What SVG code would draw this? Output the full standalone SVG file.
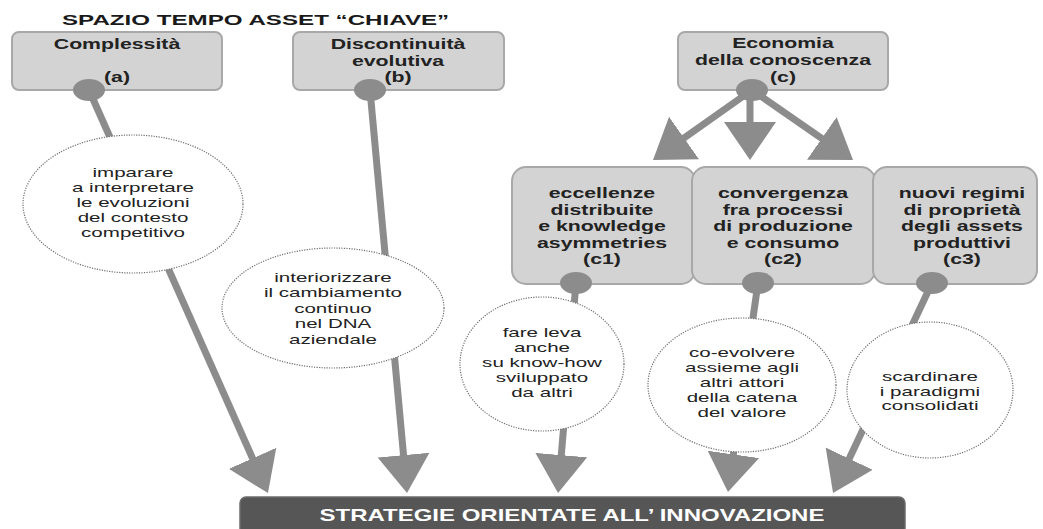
<svg xmlns="http://www.w3.org/2000/svg" width="1043" height="529" viewBox="0 0 1043 529">
  <style>
    .box{fill:#d3d3d3;stroke:#a8a8a8;stroke-width:2}
    .dot{fill:#8c8c8c}
    .bubble{fill:#fff;stroke:#6e6e6e;stroke-width:1.2;stroke-dasharray:1.2 1.3}
    .conn{stroke:#8c8c8c;stroke-width:7;fill:none;marker-end:url(#head)}
    .title{font-family:"Liberation Sans",Arial,sans-serif;font-weight:bold;font-size:15px;fill:#1a1a1a}
    .bt{font-family:"Liberation Sans",Arial,sans-serif;font-weight:bold;font-size:14px;fill:#222;text-anchor:middle}
    .ct{font-family:"Liberation Sans",Arial,sans-serif;font-size:13px;fill:#222;text-anchor:middle}
    .bar-t{font-family:"Liberation Sans",Arial,sans-serif;font-weight:bold;font-size:16px;fill:#fff;text-anchor:middle}
  </style>
  <defs>
    <marker id="head" markerUnits="userSpaceOnUse" markerWidth="40" markerHeight="54" viewBox="0 -27 40 54" refX="28" refY="0" orient="auto">
      <path d="M0,-26 L38,0 L0,26 Z" fill="#8c8c8c"/>
    </marker>
  </defs>

  <!-- heading -->
  <g id="heading" transform="translate(62,0) scale(1.61,1)">
    <text class="title" x="0" y="25">SPAZIO TEMPO ASSET “CHIAVE”</text>
  </g>

  <!-- connectors -->
  <g id="connectors">
    <line class="conn" x1="89" y1="90" x2="263.9" y2="483.9"/>
    <line class="conn" x1="370" y1="90" x2="406.1" y2="483"/>
    <line class="conn" x1="752" y1="90" x2="661.2" y2="154.2"/>
    <line class="conn" x1="750" y1="90" x2="750" y2="150"/>
    <line class="conn" x1="752" y1="90" x2="844.8" y2="154.3"/>
    <line class="conn" x1="576" y1="283" x2="558.9" y2="483"/>
    <line class="conn" x1="758" y1="283" x2="729.4" y2="482.1"/>
    <line class="conn" x1="932" y1="283" x2="837.3" y2="484"/>
  </g>

  <!-- top row -->
  <g id="node-a">
    <rect class="box" x="12" y="32" width="210" height="58" rx="7"/>
    <g transform="translate(117,0) scale(1.52,1)">
      <text class="bt" x="0" y="49">Complessità</text>
      <text class="bt" x="0" y="82">(a)</text>
    </g>
    <ellipse class="dot" cx="89" cy="90" rx="16" ry="11"/>
  </g>

  <g id="node-b">
    <rect class="box" x="293" y="32" width="211" height="58" rx="7"/>
    <g transform="translate(398,0) scale(1.52,1)">
      <text class="bt" x="0" y="49">Discontinuità</text>
      <text class="bt" x="0" y="66">evolutiva</text>
      <text class="bt" x="0" y="82">(b)</text>
    </g>
    <ellipse class="dot" cx="370" cy="90" rx="16" ry="11"/>
  </g>

  <g id="node-c">
    <rect class="box" x="678" y="32" width="210" height="58" rx="7"/>
    <g transform="translate(783,0) scale(1.52,1)">
      <text class="bt" x="0" y="48">Economia</text>
      <text class="bt" x="0" y="65">della conoscenza</text>
      <text class="bt" x="0" y="82">(c)</text>
    </g>
    <ellipse class="dot" cx="752" cy="90" rx="16" ry="11"/>
  </g>

  <!-- second row -->
  <g id="node-c1">
    <rect class="box" x="512" y="167" width="183" height="117" rx="14"/>
    <g transform="translate(602,0) scale(1.52,1)">
      <text class="bt" x="0" y="198">eccellenze</text>
      <text class="bt" x="0" y="215">distribuite</text>
      <text class="bt" x="0" y="231">e knowledge</text>
      <text class="bt" x="0" y="248">asymmetries</text>
      <text class="bt" x="0" y="264">(c1)</text>
    </g>
    <ellipse class="dot" cx="576" cy="283" rx="16" ry="11"/>
  </g>

  <g id="node-c2">
    <rect class="box" x="692" y="167" width="183" height="117" rx="14"/>
    <g transform="translate(783,0) scale(1.52,1)">
      <text class="bt" x="0" y="198">convergenza</text>
      <text class="bt" x="0" y="215">fra processi</text>
      <text class="bt" x="0" y="231">di produzione</text>
      <text class="bt" x="0" y="248">e consumo</text>
      <text class="bt" x="0" y="264">(c2)</text>
    </g>
    <ellipse class="dot" cx="758" cy="283" rx="16" ry="11"/>
  </g>

  <g id="node-c3">
    <rect class="box" x="873" y="167" width="164" height="117" rx="14"/>
    <g transform="translate(962,0) scale(1.52,1)">
      <text class="bt" x="0" y="198">nuovi regimi</text>
      <text class="bt" x="0" y="215">di proprietà</text>
      <text class="bt" x="0" y="231">degli assets</text>
      <text class="bt" x="0" y="248">produttivi</text>
      <text class="bt" x="0" y="264">(c3)</text>
    </g>
    <ellipse class="dot" cx="932" cy="283" rx="16" ry="11"/>
  </g>

  <!-- bubbles -->
  <g id="bubble-a">
    <ellipse class="bubble" cx="133" cy="204" rx="110" ry="69"/>
    <g transform="translate(133,0) scale(1.58,1)">
      <text class="ct" x="0" y="177">imparare</text>
      <text class="ct" x="0" y="192">a interpretare</text>
      <text class="ct" x="0" y="207">le evoluzioni</text>
      <text class="ct" x="0" y="222">del contesto</text>
      <text class="ct" x="0" y="237">competitivo</text>
    </g>
  </g>

  <g id="bubble-b">
    <ellipse class="bubble" cx="333" cy="308" rx="111" ry="60"/>
    <g transform="translate(333,0) scale(1.58,1)">
      <text class="ct" x="0" y="282">interiorizzare</text>
      <text class="ct" x="0" y="297">il cambiamento</text>
      <text class="ct" x="0" y="313">continuo</text>
      <text class="ct" x="0" y="328">nel DNA</text>
      <text class="ct" x="0" y="344">aziendale</text>
    </g>
  </g>

  <g id="bubble-c1">
    <ellipse class="bubble" cx="542" cy="364" rx="82" ry="67"/>
    <g transform="translate(542,0) scale(1.58,1)">
      <text class="ct" x="0" y="337">fare leva</text>
      <text class="ct" x="0" y="352">anche</text>
      <text class="ct" x="0" y="367">su know-how</text>
      <text class="ct" x="0" y="382">sviluppato</text>
      <text class="ct" x="0" y="397">da altri</text>
    </g>
  </g>

  <g id="bubble-c2">
    <ellipse class="bubble" cx="742" cy="385" rx="94" ry="67"/>
    <g transform="translate(742,0) scale(1.58,1)">
      <text class="ct" x="0" y="357">co-evolvere</text>
      <text class="ct" x="0" y="372">assieme agli</text>
      <text class="ct" x="0" y="387">altri attori</text>
      <text class="ct" x="0" y="402">della catena</text>
      <text class="ct" x="0" y="417">del valore</text>
    </g>
  </g>

  <g id="bubble-c3">
    <ellipse class="bubble" cx="930" cy="390" rx="83" ry="68"/>
    <g transform="translate(930,0) scale(1.58,1)">
      <text class="ct" x="0" y="381">scardinare</text>
      <text class="ct" x="0" y="396">i paradigmi</text>
      <text class="ct" x="0" y="410">consolidati</text>
    </g>
  </g>

  <!-- outcome bar -->
  <g id="node-strategie">
    <rect x="240" y="497" width="665" height="42" rx="6" fill="#565656" stroke="#6c6c6c" stroke-width="1.5"/>
    <g transform="translate(572,0) scale(1.5,1)">
      <text class="bar-t" x="0" y="521">STRATEGIE ORIENTATE ALL’ INNOVAZIONE</text>
    </g>
  </g>
</svg>
